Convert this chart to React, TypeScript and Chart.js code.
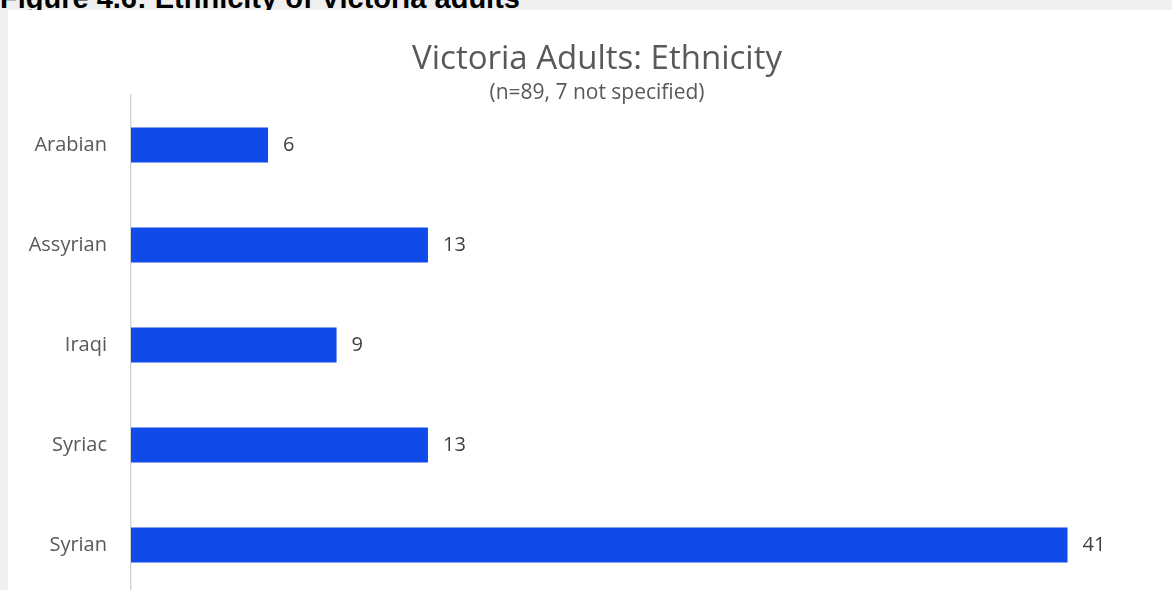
import React, { useEffect, useRef } from "react";
import { Chart, registerables } from "chart.js";

Chart.register(...registerables);

const categories = ["Arabian", "Assyrian", "Iraqi", "Syriac", "Syrian"];
const counts = [6, 13, 9, 13, 41];
const chartTitle = "Victoria Adults: Ethnicity";
const chartSubtitle = "(n=89, 7 not specified)";
const figureCaption = "Figure 4.6: Ethnicity of Victoria adults";
const xMax = 46.8;

const FONT = "'Open Sans', 'DejaVu Sans', sans-serif";

const valueLabels = {
  id: "valueLabels",
  afterDatasetsDraw(chart: any) {
    const ctx = chart.ctx;
    const meta = chart.getDatasetMeta(0);
    const data = chart.data.datasets[0].data as number[];
    ctx.save();
    ctx.font = `20px ${FONT}`;
    ctx.fillStyle = "#404040";
    ctx.textAlign = "left";
    ctx.textBaseline = "middle";
    meta.data.forEach((bar: any, i: number) => {
      ctx.fillText(String(data[i]), bar.x + 15, bar.y);
    });
    ctx.restore();
  },
};

export default function App() {
  const ref = useRef<HTMLCanvasElement | null>(null);

  useEffect(() => {
    if (!ref.current) return;
    const chart = new Chart(ref.current, {
      type: "bar",
      data: {
        labels: categories,
        datasets: [
          {
            data: counts,
            backgroundColor: "#0F4BE9",
            borderWidth: 0,
            categoryPercentage: 1,
            barPercentage: 0.35,
          },
        ],
      },
      options: {
        indexAxis: "y",
        responsive: false,
        animation: false,
        layout: { padding: { left: 0, right: 0, top: 0, bottom: 0 } },
        plugins: {
          legend: { display: false },
          tooltip: { enabled: false },
          title: {
            display: true,
            text: chartTitle,
            color: "#595959",
            font: { family: FONT, size: 33, weight: "normal" },
            padding: { top: 30, bottom: 0 },
          },
          subtitle: {
            display: true,
            text: chartSubtitle,
            color: "#595959",
            font: { family: FONT, size: 21, weight: "normal" },
            padding: { top: 1.2, bottom: -11 },
          },
        },
        scales: {
          x: {
            display: false,
            min: 0,
            max: xMax,
          },
          y: {
            grid: { display: false, drawTicks: false },
            border: { display: true, color: "#D0D0D0", width: 1.3 },
            ticks: {
              color: "#595959",
              font: { family: FONT, size: 20 },
              padding: 24,
            },
            afterFit(scale: any) {
              scale.width = 137;
            },
          },
        },
      },
      plugins: [valueLabels],
    });
    return () => chart.destroy();
  }, []);

  return (
    <div
      style={{
        position: "fixed",
        left: 0,
        top: 0,
        width: 1172,
        height: 590,
        overflow: "hidden",
        background: "#EFEFEF",
      }}
    >
      <div
        style={{
          position: "absolute",
          left: 0,
          top: -16,
          font: "bold 29px 'Liberation Sans', Arial, sans-serif",
          lineHeight: "28px",
          color: "#000",
          whiteSpace: "nowrap",
        }}
      >
        {figureCaption}
      </div>
      <div
        style={{
          position: "absolute",
          left: 8,
          top: 10,
          width: 1164,
          height: 621,
          background: "#FFFFFF",
        }}
      >
        <canvas
          ref={ref}
          width={1206}
          height={621}
          style={{ display: "block", position: "absolute", left: -14, top: 0 }}
        />
      </div>
    </div>
  );
}
